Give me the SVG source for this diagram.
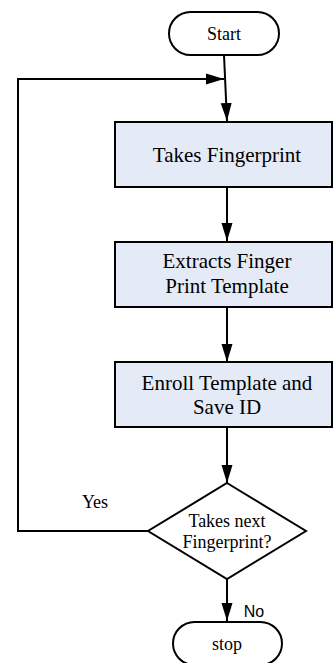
<svg xmlns="http://www.w3.org/2000/svg" width="333" height="663" viewBox="0 0 333 663">
<style>
.shape{stroke:#000;stroke-width:2;}
.box{fill:#e4ebf6;}
.term{fill:#fff;}
.t{fill:#000;text-anchor:middle;}
.b{font-size:21px;}
.s{font-size:18px;}
.edge{fill:none;stroke:#000;stroke-width:2;marker-end:url(#ah);}
</style>
<defs>
<marker id="ah" markerUnits="userSpaceOnUse" markerWidth="18" markerHeight="12" refX="18" refY="6" orient="auto">
<path d="M0,0.5 L18,6 L0,11.5 Z" fill="#000"/>
</marker>
</defs>
<rect width="333" height="663" fill="#fff"/>
<g font-family="Liberation Serif, Times New Roman, serif">
<g id="connectors">
<path class="edge" d="M224,55 L227,121"/>
<path class="edge" d="M148,531 L18,531 L18,79 L224,79"/>
<path class="edge" d="M227,187 L227,241"/>
<path class="edge" d="M227,307 L227,362"/>
<path class="edge" d="M227,427 L227,483"/>
<path class="edge" d="M227,579 L227,621"/>
<text class="t s" x="95" y="508">Yes</text>
<text x="254" y="617" font-family="Liberation Sans, Arial, sans-serif" font-size="16" text-anchor="middle">No</text>
</g>
<g id="start">
<rect class="shape term" x="169" y="12" width="110" height="43" rx="21.5"/>
<text class="t s" x="224" y="40">Start</text>
</g>
<g id="takes">
<rect class="shape box" x="115" y="122" width="217" height="65"/>
<text class="t b" x="227" y="162">Takes Fingerprint</text>
</g>
<g id="extracts">
<rect class="shape box" x="115" y="242" width="217" height="65"/>
<text class="t b" x="227" y="268">Extracts Finger</text>
<text class="t b" x="227" y="293">Print Template</text>
</g>
<g id="enroll">
<rect class="shape box" x="115" y="362" width="217" height="65"/>
<text class="t b" x="227" y="390">Enroll Template and</text>
<text class="t b" x="227" y="414">Save ID</text>
</g>
<g id="decision">
<polygon class="shape term" points="227,483 306,531 227,579 148,531"/>
<text class="t s" x="227" y="527">Takes next</text>
<text class="t s" x="227" y="548">Fingerprint?</text>
</g>
<g id="stop">
<rect class="shape term" x="173" y="622" width="109" height="43" rx="21.5"/>
<text class="t s" x="227" y="650">stop</text>
</g>
</g>
</svg>
